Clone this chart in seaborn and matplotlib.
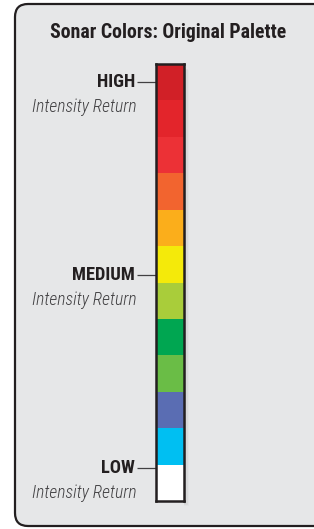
import numpy as np
import pandas as pd
import matplotlib
matplotlib.use('Agg')
import matplotlib.pyplot as plt
from matplotlib.colors import ListedColormap
from matplotlib.patches import FancyBboxPatch, Rectangle
from matplotlib import font_manager
import seaborn as sns

# palette data: one colour per intensity step, strongest on top
levels = [12, 11, 10, 9, 8, 7, 6, 5, 4, 3, 2, 1]
band_colors = ['#D12027', '#E3252B', '#EC3136', '#F2642F', '#FBAE1B', '#F4EA0A',
               '#A9CD3A', '#00A651', '#6ABD46', '#5A6DB3', '#00BFF2', '#FFFFFF']
label_names = ['HIGH', 'MEDIUM', 'LOW']
label_rows = [0.5, 5.8, 11.1]
sub_label = 'Intensity Return'
title = 'Sonar Colors: Original Palette'

sns.set_theme(style='white')
# condensed face if one with a bold weight is around, else plain Liberation Sans
bold_fams = {f.name for f in font_manager.fontManager.ttflist
             if isinstance(f.weight, int) and f.weight >= 700}
cond = next((n for n in ['Roboto Condensed', 'Fira Sans Condensed', 'Encode Sans Condensed']
             if n in bold_fams), None)
if cond:
    plt.rcParams['font.family'] = [cond, 'DejaVu Sans']
    fs_title, fs_lab, fs_sub = 14.2, 13.3, 12.7
else:
    plt.rcParams['font.family'] = ['Liberation Sans', 'DejaVu Sans']
    fs_title, fs_lab, fs_sub = 12.2, 11.8, 10.8

W, H = 314, 529
fig = plt.figure(figsize=(W / 100, H / 100), dpi=100)
fig.patch.set_facecolor('white')

# background panel in pixel coords
bg = fig.add_axes([0, 0, 1, 1])
bg.set_xlim(0, W)
bg.set_ylim(H, 0)
bg.axis('off')
bg.add_patch(FancyBboxPatch((15, 4), 330, 522, boxstyle='round,pad=0,rounding_size=13',
                            facecolor='#E6E7E8', edgecolor='#231F20', linewidth=1.6))
# soft shadow right of the bar
for i, a in enumerate([0.10, 0.07, 0.04]):
    bg.add_patch(Rectangle((184, 68 + i), 2 + i * 1.5, 436, facecolor='#6D6E71',
                           alpha=a, linewidth=0))
bg.text(168, 32, title, ha='center', va='center', fontsize=fs_title, fontweight='bold',
        color='#231F20')

df = pd.DataFrame({'level': levels})
cmap = ListedColormap(band_colors[::-1])
ax = fig.add_axes([156 / W, 1 - 501 / H, 28 / W, 437 / H])
sns.heatmap(df[['level']], ax=ax, cmap=cmap, vmin=0.5, vmax=12.5, cbar=False,
            xticklabels=False, linewidths=0)
for s in ax.spines.values():
    s.set_visible(True)
    s.set_color('#231F20')
    s.set_linewidth(1.8)
ax.set_yticks(label_rows)
ax.set_yticklabels(label_names, fontsize=fs_lab, fontweight='bold', color='#231F20',
                   rotation=0)
ax.tick_params(axis='y', left=True, length=14, width=0.9, color='#414042', pad=1)
ax.set_ylabel('')
for r in label_rows:
    ax.text(-19 / 28, r + 0.68, sub_label, transform=ax.get_yaxis_transform(),
            ha='right', va='center', fontsize=fs_sub, style='italic', fontweight='light',
            color='#414042')

fig.savefig('out.png', dpi=100)
